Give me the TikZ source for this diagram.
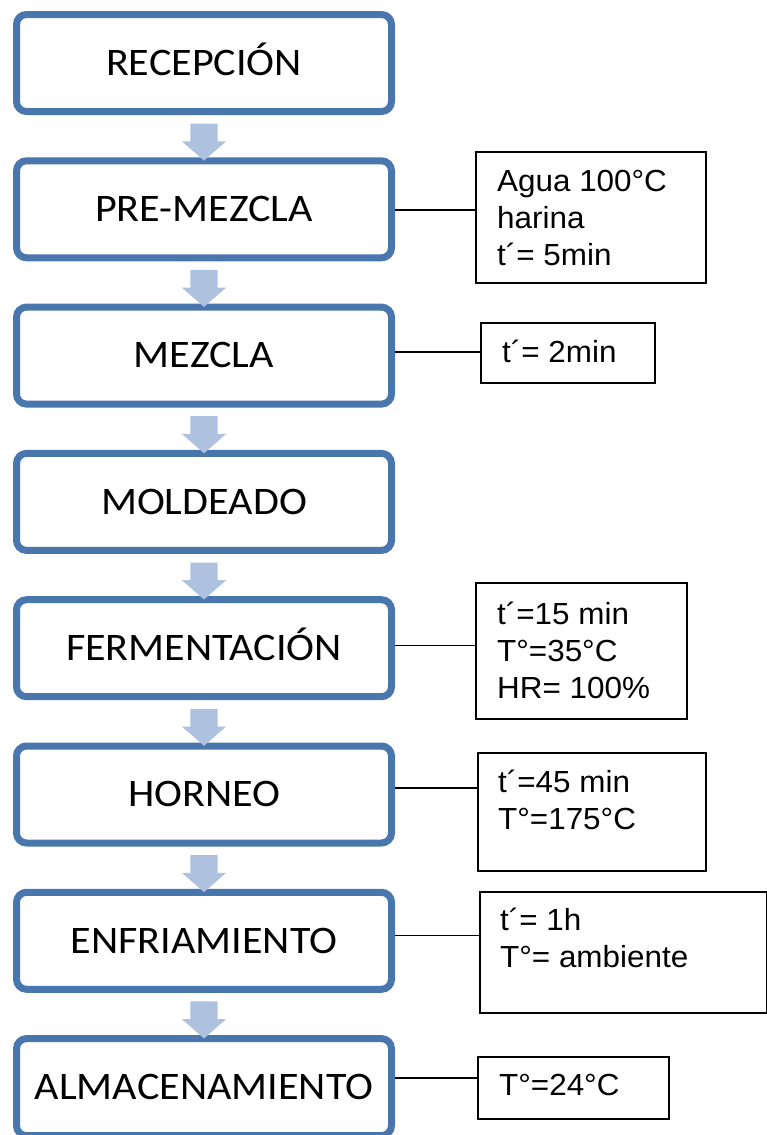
\documentclass[tikz,border=0pt]{standalone}
\usepackage{fontspec}
\setmainfont{Carlito}[FakeStretch=1.08]
\newfontfamily\arialfont{Liberation Sans}[FakeStretch=1.03]
\usetikzlibrary{shapes.arrows,calc,shadows}
\definecolor{pasoborde}{HTML}{4A76AE}
\definecolor{flecha}{HTML}{AEC2DF}

\begin{document}
\begin{tikzpicture}[x=1pt,y=-1pt,
   paso/.style={draw=pasoborde, line width=7pt, rounded corners=10pt, fill=white,
      minimum width=375pt, minimum height=97pt, text height=24.5pt, text depth=0pt,
      inner sep=0pt, font=\fontsize{39}{44}\selectfont,
      drop shadow={opacity=0.18, shadow xshift=1pt, shadow yshift=-2.5pt}},
   flechita/.style={single arrow, fill=flecha, rotate=-90, minimum height=37pt,
      inner xsep=0pt, inner ysep=13.5pt, single arrow head extend=8.5pt,
      single arrow tip angle=98, single arrow head indent=0pt},
   dato/.style={draw, line width=1.8pt, anchor=north west, inner sep=0pt},
   texto/.style={anchor=base west, align=left, inner sep=0pt,
      font=\arialfont\fontsize{30.5}{37}\selectfont},
   linea/.style={line width=1.3pt}]
   \useasboundingbox (0,0) rectangle (767,1135);

   % etapas del proceso
   \node[paso] (recepcion) at (204,63) {RECEPCIÓN};
   \node[paso] (premezcla) at (204,209.3) {PRE-MEZCLA};
   \node[paso] (mezcla) at (204,355.6) {MEZCLA};
   \node[paso] (moldeado) at (204,501.9) {MOLDEADO};
   \node[paso] (fermentacion) at (204,648.2) {FERMENTACIÓN};
   \node[paso] (horneo) at (204,794.5) {HORNEO};
   \node[paso] (enfriamiento) at (204,940.8) {ENFRIAMIENTO};
   \node[paso] (almacenamiento) at (204,1087.1) {ALMACENAMIENTO};

   % flechas
   \node[flechita] (f1) at ($(recepcion.south)!0.5!(premezcla.north)$) {};
   \node[flechita] (f2) at ($(premezcla.south)!0.5!(mezcla.north)$) {};
   \node[flechita] (f3) at ($(mezcla.south)!0.5!(moldeado.north)$) {};
   \node[flechita] (f4) at ($(moldeado.south)!0.5!(fermentacion.north)$) {};
   \node[flechita] (f5) at ($(fermentacion.south)!0.5!(horneo.north)$) {};
   \node[flechita] (f6) at ($(horneo.south)!0.5!(enfriamiento.north)$) {};
   \node[flechita] (f7) at ($(enfriamiento.south)!0.5!(almacenamiento.north)$) {};

   % condiciones
   \node[dato, minimum width=230pt, minimum height=131pt] (d1) at (475,151) {};
   \node[texto] (t1) at (497,265) {Agua 100°C\\harina\\t´= 5min};

   \node[dato, minimum width=174pt, minimum height=60pt] (d2) at (480,322) {};
   \node[texto] (t2) at (502,362) {t´= 2min};

   \node[dato, minimum width=211pt, minimum height=136pt] (d3) at (475,582) {};
   \node[texto] (t3) at (497,698) {t´=15 min\\T°=35°C\\HR= 100\%};

   \node[dato, minimum width=228pt, minimum height=118pt] (d4) at (477,752) {};
   \node[texto] (t4) at (498,829) {t´=45 min\\T°=175°C};

   \node[dato, minimum width=287pt, minimum height=121pt] (d5) at (479,891) {};
   \node[texto] (t5) at (500,967) {t´= 1h\\T°= ambiente};

   \node[dato, minimum width=191pt, minimum height=62pt] (d6) at (477,1056) {};
   \node[texto] (t6) at (499,1095) {T°=24°C};

   \draw[linea] ([yshift=-0.7pt]premezcla.east) -- ([yshift=-0.7pt]premezcla.east -| d1.west);
   \draw[linea] ([yshift=3.6pt]mezcla.east) -- ([yshift=3.6pt]mezcla.east -| d2.west);
   \draw[linea] ([yshift=3pt]fermentacion.east) -- ([yshift=3pt]fermentacion.east -| d3.west);
   \draw[linea] ([yshift=6.5pt]horneo.east) -- ([yshift=6.5pt]horneo.east -| d4.west);
   \draw[linea] ([yshift=5pt]enfriamiento.east) -- ([yshift=5pt]enfriamiento.east -| d5.west);
   \draw[linea] ([yshift=9pt]almacenamiento.east) -- ([yshift=9pt]almacenamiento.east -| d6.west);
\end{tikzpicture}
\end{document}
